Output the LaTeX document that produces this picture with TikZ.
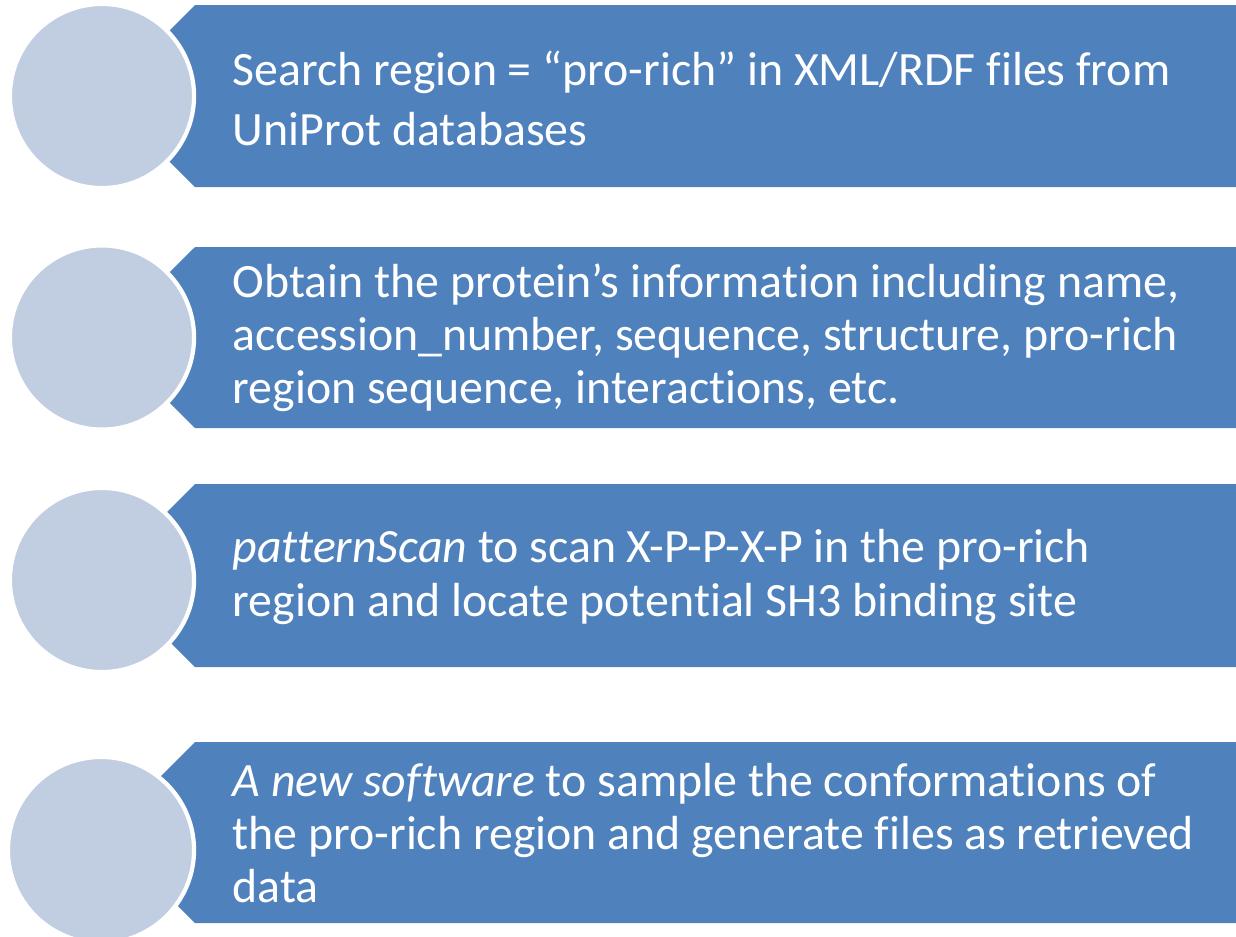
\documentclass[tikz,border=0pt]{standalone}
\usepackage{fontspec}
\setmainfont{Carlito}[Ligatures=NoCommon]
\usetikzlibrary{calc}
\definecolor{barblue}{RGB}{79,129,189}
\definecolor{dotgray}{RGB}{193,205,225}

\begin{document}
\begin{tikzpicture}[x=0.01cm, y=-0.01cm,
        bar/.style={fill=barblue},
        dot/.style={circle, fill=dotgray, draw=white, line width=1.2pt, inner sep=0pt, minimum size=1.84cm},
        txt/.style={anchor=west, align=left, text=white, inner sep=0pt,
            font=\fontsize{13.6}{15.1}\selectfont}]
        \useasboundingbox (0,0) rectangle (1236,936);

        \fill[bar] (195,5) -- (1236,5) -- (1236,187) -- (195,187) -- (104,96) -- cycle;
        \fill[bar] (195,247) -- (1236,247) -- (1236,428) -- (195,428) -- (104,337.5) -- cycle;
        \fill[bar] (195,484) -- (1236,484) -- (1236,667) -- (195,667) -- (103.5,575.5) -- cycle;
        \fill[bar] (195,742) -- (1236,742) -- (1236,923) -- (195,923) -- (104.5,832.5) -- cycle;

        \node[dot] (dot1) at (102,96) {};
        \node[dot] (dot2) at (102,337.5) {};
        \node[dot] (dot3) at (102,580) {};
        \node[dot, minimum size=1.86cm] (dot4) at (101,850) {};

        \node[txt, font=\fontsize{13.6}{17.1}\selectfont] (txt1) at (232,98)
            {Search region = “pro-rich” in XML/RDF files from\\UniProt databases};
        \node[txt] (txt2) at (232,338)
            {Obtain the protein’s information including name,\\accession\_number, sequence, structure, pro-rich\\region sequence, interactions, etc.};
        \node[txt] (txt3) at (232,577)
            {\textit{patternScan} to scan X-P-P-X-P in the pro-rich\\region and locate potential SH3 binding site};
        \node[txt] (txt4) at (232,833)
            {\textit{A new software} to sample the conformations of\\the pro-rich region and generate files as retrieved\\data};
    \end{tikzpicture}
\end{document}
